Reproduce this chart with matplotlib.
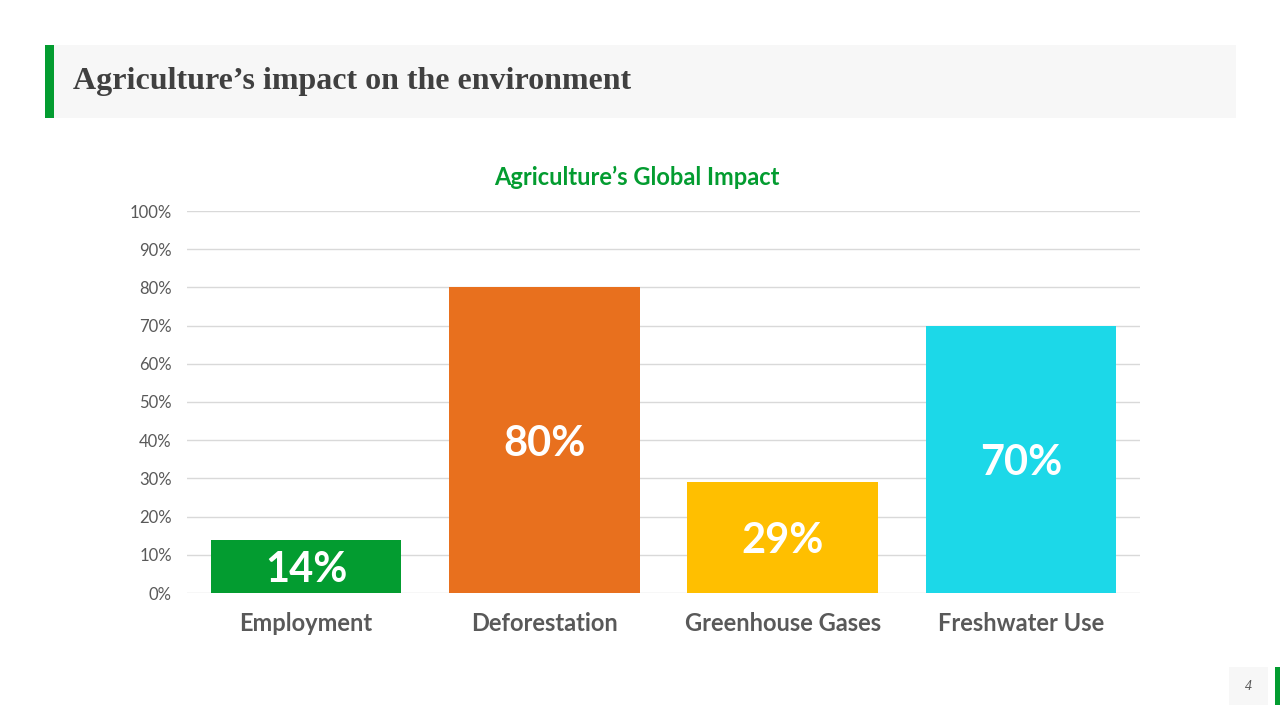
import matplotlib
matplotlib.use("Agg")
import matplotlib.pyplot as plt
from matplotlib.patches import Rectangle

categories = ["Employment", "Deforestation", "Greenhouse Gases", "Freshwater Use"]
values = [14, 80, 29, 70]
colors = ["#039C30", "#E8701E", "#FFBF00", "#1CD8E8"]
yticks = list(range(0, 101, 10))
ytick_labels = [f"{v}%" for v in yticks]

W, H = 1280, 720
fig = plt.figure(figsize=(12.8, 7.2), dpi=100)
fig.patch.set_facecolor("white")

def px(x, y, w, h):
    return [x / W, 1 - (y + h) / H, w / W, h / H]

# header band
fig.patches.append(Rectangle((45 / W, 1 - 118 / H), (1236 - 45) / W, 73 / H,
                             transform=fig.transFigure, facecolor="#F7F7F7", edgecolor="none"))
fig.patches.append(Rectangle((45 / W, 1 - 118 / H), 9 / W, 73 / H,
                             transform=fig.transFigure, facecolor="#039C30", edgecolor="none"))
fig.text(73 / W, 1 - 82 / H, "Agriculture\u2019s impact on the environment",
         family="Liberation Serif", fontsize=23, fontweight="bold", color="#404040",
         ha="left", va="center")

# page number
fig.patches.append(Rectangle((1229 / W, 1 - 705 / H), 39 / W, 38 / H,
                             transform=fig.transFigure, facecolor="#F7F7F7", edgecolor="none"))
fig.patches.append(Rectangle((1275 / W, 1 - 705 / H), 5 / W, 38 / H,
                             transform=fig.transFigure, facecolor="#039C30", edgecolor="none"))
fig.text(1248 / W, 1 - 687 / H, "4", family="Liberation Serif", fontstyle="italic",
         fontsize=10, color="#595959", ha="center", va="center")

# chart
ax = fig.add_axes(px(187, 211, 953, 382))
x = list(range(len(categories)))
bars = ax.bar(x, values, width=0.8, color=colors, zorder=3)
ax.set_xlim(-0.5, len(categories) - 0.5)
ax.set_ylim(0, 100)
ax.set_yticks(yticks)
ax.set_yticklabels(ytick_labels, family="Lato", fontsize=12, color="#595959")
ax.set_xticks(x)
ax.set_xticklabels(categories, family="Lato", fontsize=17, fontweight="bold", color="#595959")
ax.tick_params(axis="both", length=0)
ax.tick_params(axis="y", pad=11)
ax.tick_params(axis="x", pad=14)
ax.grid(axis="y", color="#D9D9D9", linewidth=1, zorder=0)
for s in ax.spines.values():
    s.set_visible(False)
ax.set_facecolor("white")

for xi, v in zip(x, values):
    ax.text(xi, v / 2 - 1, f"{v}%", ha="center", va="center", family="Lato",
            fontsize=30, fontweight="bold", color="white", zorder=4)

fig.text(637 / W, 1 - 177 / H, "Agriculture\u2019s Global Impact", family="Lato",
         fontsize=17, fontweight="bold", color="#039C30", ha="center", va="center")

fig.savefig("out.png", dpi=100)
